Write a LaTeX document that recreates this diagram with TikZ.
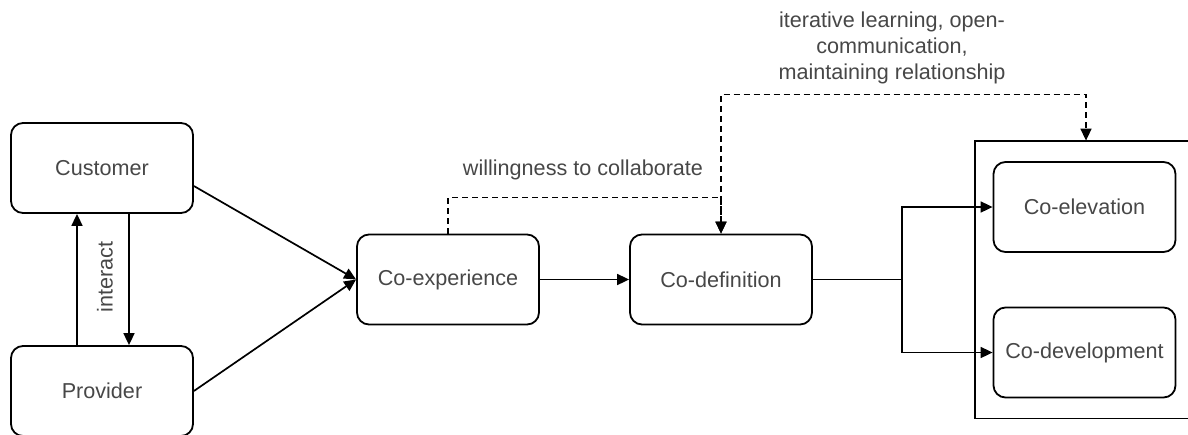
\documentclass[tikz,border=0pt]{standalone}
\usepackage{fontspec}
\setmainfont{Liberation Sans}
\usepackage{tikz}
\usetikzlibrary{positioning,calc,arrows.meta}
\tikzset{
  procbox/.style={rectangle,draw,rounded corners=6pt,line width=0.9pt,minimum width=91pt,minimum height=45pt,inner sep=1pt,text=black!72,font=\fontsize{10.8}{13}\selectfont},
  lbl/.style={text=black!72,font=\fontsize{10.8}{13}\selectfont,inner sep=1pt},
  flow/.style={line width=0.85pt,-{Triangle[length=6pt,width=5.5pt]}},
  dflow/.style={line width=0.75pt,dashed,dash pattern=on 3pt off 2pt}
}

\begin{document}
\begin{tikzpicture}[x=0.5pt,y=-0.5pt]
            \useasboundingbox (0,0) rectangle (1188,434);
            \node[procbox] (customer) at (102,168) {Customer};
            \node[procbox] (provider) at (102,391) {Provider};
            \node[procbox] (coexp) at (448,279.5) {Co-experience};
            \node[procbox] (codef) at (721,279.5) {Co-definition};
            % outcome frame, runs past the right edge
            \node[rectangle,minimum width=125pt,minimum height=138.5pt] (stage) at (1100,279.5) {};
            \draw[line width=0.9pt] (stage.north east) -- (stage.north west) -- (stage.south west) -- (stage.south east);
            \node[procbox] (coelev) at (1084.5,207) {Co-elevation};
            \node[procbox] (codev) at (1084.5,352.5) {Co-development};
            \coordinate (split) at (902,279.5);
            % interaction between the two parties
            \draw[flow] ($(provider.north)+(-25,0)$) -- ($(customer.south)+(-25,0)$);
            \draw[flow] ($(customer.south)+(27,0)$) -- ($(provider.north)+(27,0)$);
            \node[lbl,rotate=90] (interact) at (105,277) {interact};
            \draw[flow] ($(customer.east)+(0,18)$) -- (coexp.west);
            \draw[flow] (provider.east) -- (coexp.west);
            \draw[flow] (coexp) -- (codef);
            % dashed links
            \draw[dflow,-{Triangle[length=6pt,width=5.5pt]}] (coexp.north) -- ++(0,-36) -| (codef.north);
            \node[lbl] (willing) at (583,170) {willingness to collaborate};
            \draw[dflow,{Triangle[length=6pt,width=5.5pt]}-{Triangle[length=6pt,width=5.5pt]}] (codef.north) -- ++(0,-139) -| ($(stage.north)+(-14,0)$);
            \node[lbl,align=center] (iter) at (892,48) {iterative learning, open-\\communication,\\maintaining relationship};
            % fork to the outcomes
            \draw[line width=0.85pt] (codef.east) -- (split);
            \draw[flow] (split) |- (coelev.west);
            \draw[flow] (split) |- (codev.west);
        \end{tikzpicture}
\end{document}
